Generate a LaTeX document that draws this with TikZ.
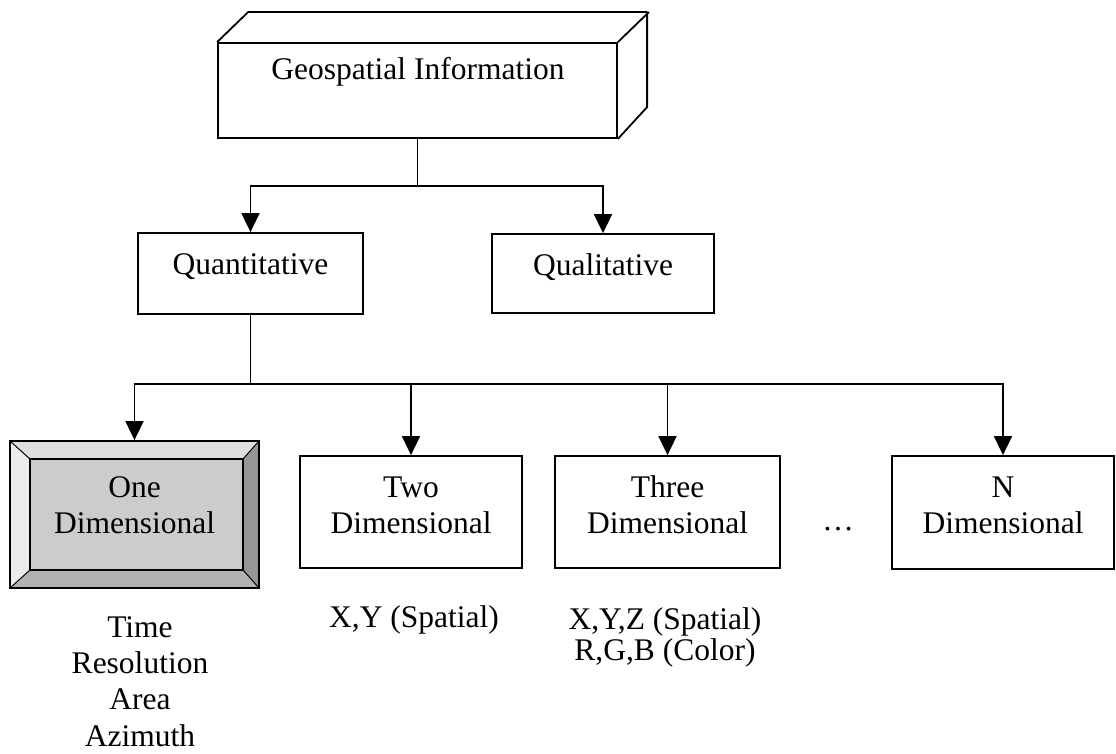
\documentclass[tikz,border=0pt]{standalone}
\usepackage{fontspec}
\setmainfont{Liberation Serif}
\usetikzlibrary{arrows.meta}
\begin{document}
\begin{tikzpicture}[x=1pt,y=-1pt,
  box/.style={draw=black, line width=1.8pt, inner sep=0pt},
  lbl/.style={font=\fontsize{31.5}{36}\selectfont, inner sep=0pt, anchor=base, align=center},
  sub/.style={font=\fontsize{31.5}{31}\selectfont, inner sep=0pt, anchor=base, align=center},
  lst/.style={font=\fontsize{31.5}{36.3}\selectfont, inner sep=0pt, anchor=base, align=center},
  arr/.style={-{Triangle[width=18pt,length=19pt]}, line width=1.8pt},
  conn/.style={line width=1.8pt}]
\useasboundingbox (0,0) rectangle (1116,754);

% Geospatial 3D box
\node[box, minimum width=399pt, minimum height=95pt] (geo) at (417.5,90.5) {};
\draw[line width=1.8pt, line join=round] (geo.north west) -- ++(31,-30) -- ++(399,0) -- ++(0,95) -- (geo.south east);
\draw[line width=1.8pt] (geo.north east) -- ++(31,-30);
\node[lbl] (geot) at (418,80) {Geospatial Information};

% second level
\node[box, minimum width=225pt, minimum height=81pt] (quant) at (250.5,273.5) {};
\node[lbl] (quantt) at (250.5,274) {Quantitative};
\node[box, minimum width=222pt, minimum height=79pt] (qual) at (603,273.5) {};
\node[lbl] (qualt) at (603,275) {Qualitative};

% One dimensional bevel box
\coordinate (o1) at (10,441);
\coordinate (o2) at (259,441);
\coordinate (o3) at (259,588);
\coordinate (o4) at (10,588);
\coordinate (i1) at (30,459);
\coordinate (i2) at (243,459);
\coordinate (i3) at (243,570);
\coordinate (i4) at (30,570);
\fill[fill={rgb,255:red,222;green,222;blue,222}] (o1) -- (o2) -- (i2) -- (i1) -- cycle;
\fill[fill={rgb,255:red,236;green,236;blue,236}] (o1) -- (i1) -- (i4) -- (o4) -- cycle;
\fill[fill={rgb,255:red,150;green,150;blue,150}] (o2) -- (o3) -- (i3) -- (i2) -- cycle;
\fill[fill={rgb,255:red,178;green,178;blue,178}] (o4) -- (i4) -- (i3) -- (o3) -- cycle;
\fill[fill={rgb,255:red,204;green,204;blue,204}] (i1) rectangle (i3);
\draw[line width=1pt] (o1) -- (i1) (o2) -- (i2) (o3) -- (i3) (o4) -- (i4);
\draw[line width=1.3pt] (i1) rectangle (i3);
\node[box, minimum width=249pt, minimum height=147pt] (one) at (134.5,514.5) {};
\node[lbl] (onet) at (134.5,533) {One\\Dimensional};

% other boxes
\node[box, minimum width=222pt, minimum height=112pt] (two) at (411,512) {};
\node[lbl] (twot) at (411,533) {Two\\Dimensional};
\node[box, minimum width=225pt, minimum height=112pt] (three) at (667.5,512) {};
\node[lbl] (threet) at (667.5,533) {Three\\Dimensional};
\node[box, minimum width=222pt, minimum height=113pt] (ndim) at (1003,512.5) {};
\node[lbl] (ndimt) at (1003,533) {N\\Dimensional};
\node[lbl] (dots) at (838,530) {\dots};

% captions
\node[lst] (onec) at (140,746) {Time\\Resolution\\Area\\Azimuth};
\node[sub] (twoc) at (414,627) {X,Y (Spatial)};
\node[sub] (threec) at (665,660) {X,Y,Z (Spatial)\\R,G,B (Color)};

% connectors
\coordinate (j1) at (417.5,186);
\draw[conn] (geo.south) -- (j1);
\draw[arr] (j1) -| (quant.north);
\draw[arr] (j1) -| (qual.north);
\coordinate (j2) at (250.5,384);
\draw[conn] (quant.south) -- (j2);
\draw[arr] (j2) -| (one.north);
\draw[arr] (j2) -| (two.north);
\draw[arr] (j2) -| (three.north);
\draw[arr] (j2) -| (ndim.north);
\end{tikzpicture}
\end{document}
